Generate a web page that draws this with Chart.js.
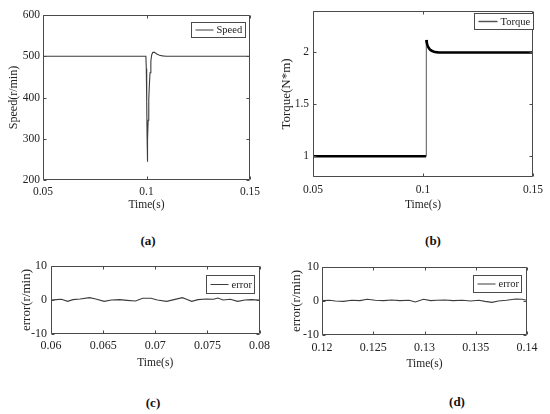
<!DOCTYPE html>
<html><head><meta charset="utf-8">
<script src="https://cdn.jsdelivr.net/npm/chart.js@4.4.1/dist/chart.umd.min.js"></script>
<style>
html,body{margin:0;padding:0;background:#fff;width:550px;height:414px;overflow:hidden;position:relative;}
canvas{position:absolute;}
.cap{position:absolute;font:bold 13px 'Liberation Serif';color:#111;transform:translate(-50%,-50%);white-space:nowrap;}
</style></head><body>
<canvas id="ca" width="275" height="225" style="left:0;top:0"></canvas>
<canvas id="cb" width="275" height="225" style="left:275px;top:0"></canvas>
<canvas id="cc" width="275" height="125" style="left:0;top:250px"></canvas>
<canvas id="cd" width="275" height="125" style="left:275px;top:250px"></canvas>
<div class="cap" style="left:148px;top:241px">(a)</div>
<div class="cap" style="left:433px;top:241px">(b)</div>
<div class="cap" style="left:153px;top:403px">(c)</div>
<div class="cap" style="left:457px;top:402px">(d)</div>
<script>
// ---- data ----
const speedTime   = [0.05, 0.0997, 0.0999, 0.1001, 0.1003, 0.1004, 0.1006, 0.1008, 0.1011, 0.1014, 0.1017, 0.1021, 0.1025, 0.1030, 0.1036, 0.1043, 0.1052, 0.1063, 0.1078, 0.1095, 0.15];
const speedValues = [500, 500, 470, 390, 300, 244, 300, 345, 395, 432, 460, 488, 503, 509, 510, 508, 505, 502.5, 501, 500, 500];
const speedXTicks = [0.05, 0.1, 0.15];
const speedYTicks = [200, 300, 400, 500, 600];

const torqueTime   = [0.05, 0.1014, 0.1015, 0.1017, 0.1020, 0.1024, 0.1029, 0.1035, 0.1042, 0.1050, 0.1060, 0.1072, 0.15];
const torqueValues = [1, 1, 2.12, 2.095, 2.07, 2.05, 2.035, 2.022, 2.013, 2.007, 2.003, 2.0, 2.0];
const torqueXTicks = [0.05, 0.1, 0.15];
const torqueYTicks = [1, 1.5, 2];

const errorCTime   = [0.0600, 0.0605, 0.0610, 0.0616, 0.0621, 0.0628, 0.0637, 0.0643, 0.0651, 0.0658, 0.0666, 0.0673, 0.0681, 0.0688, 0.0696, 0.0702, 0.0711, 0.0718, 0.0726, 0.0730, 0.0735, 0.0741, 0.0749, 0.0756, 0.0760, 0.0765, 0.0772, 0.0779, 0.0786, 0.0792, 0.0800];
const errorCValues = [0.0, 0.1, 0.2, -0.4, 0.1, 0.3, 0.7, 0.3, -0.4, 0.0, 0.1, -0.1, -0.3, 0.5, 0.5, 0.0, -0.4, 0.1, 0.7, 0.2, -0.4, 0.1, 0.3, 0.2, 0.6, 0.0, 0.2, -0.4, 0.0, 0.1, 0.0];
const errorCXTicks = [0.06, 0.065, 0.07, 0.075, 0.08];

const errorDTime   = [0.1200, 0.1207, 0.1213, 0.1221, 0.1229, 0.1237, 0.1244, 0.1252, 0.1260, 0.1268, 0.1276, 0.1285, 0.1291, 0.1299, 0.1306, 0.1312, 0.1320, 0.1328, 0.1337, 0.1345, 0.1353, 0.1359, 0.1366, 0.1372, 0.1380, 0.1389, 0.1395, 0.1400];
const errorDValues = [0.1, 0.2, 0.0, -0.1, 0.2, 0.1, 0.5, 0.2, 0.1, 0.3, 0.1, 0.2, -0.3, 0.5, 0.1, 0.2, 0.3, 0.1, 0.2, 0.0, 0.2, -0.1, -0.4, 0.0, 0.2, 0.6, 0.5, 0.2];
const errorDXTicks = [0.12, 0.125, 0.13, 0.135, 0.14];
const errorYTicks  = [-10, 0, 10];

// ---- helpers ----
const FONT = 'Liberation Serif';
const TXT = '#222';
const AXC = '#4a4a4a';

const boxPlugin = {
  id: 'matlabBox',
  afterDatasetsDraw(chart, args, opts) {
    const {ctx, chartArea: a, scales} = chart;
    ctx.save();
    ctx.strokeStyle = AXC; ctx.lineWidth = 1;
    const L = Math.round(a.left) + 0.5, R = Math.round(a.right) - 0.5;
    const T = Math.round(a.top) + 0.5, B = Math.round(a.bottom) - 0.5;
    ctx.beginPath();
    ctx.rect(L, T, R - L, B - T);
    const tl = 3;
    scales.x.ticks.forEach(t => {
      const px = Math.round(scales.x.getPixelForValue(t.value)) + 0.5;
      ctx.moveTo(px, B); ctx.lineTo(px, B - tl);
      ctx.moveTo(px, T); ctx.lineTo(px, T + tl);
    });
    scales.y.ticks.forEach(t => {
      const py = Math.round(scales.y.getPixelForValue(t.value)) + 0.5;
      ctx.moveTo(L, py); ctx.lineTo(L + tl, py);
      ctx.moveTo(R, py); ctx.lineTo(R - tl, py);
    });
    ctx.stroke();
    // legend
    const ds = chart.data.datasets[0];
    const lg = opts.legend;
    ctx.font = lg.size + 'px "' + FONT + '"';
    const tw = ctx.measureText(ds.label).width;
    const w = lg.padL + lg.sample + lg.gap + tw + lg.padR;
    const x1 = Math.round(a.right - lg.right - w) + 0.5;
    const y1 = Math.round(a.top + lg.top) + 0.5;
    ctx.fillStyle = '#fff';
    ctx.fillRect(x1, y1, Math.round(w), lg.h);
    ctx.strokeStyle = AXC;
    ctx.strokeRect(x1, y1, Math.round(w), lg.h);
    const cy = y1 + lg.h / 2;
    ctx.beginPath();
    ctx.strokeStyle = lg.lineColor; ctx.lineWidth = lg.lineWidth;
    ctx.moveTo(x1 + lg.padL, cy); ctx.lineTo(x1 + lg.padL + lg.sample, cy);
    ctx.stroke();
    ctx.fillStyle = TXT; ctx.textBaseline = 'middle'; ctx.textAlign = 'left';
    ctx.fillText(ds.label, x1 + lg.padL + lg.sample + lg.gap, cy + 0.5);
    ctx.restore();
  }
};

function makeChart(id, c) {
  const data = c.xs.map((x, i) => ({x: x, y: c.ys[i]}));
  return new Chart(document.getElementById(id), {
    type: 'line',
    data: {datasets: [{
      label: c.label, data: data, borderColor: c.color, borderWidth: c.width,
      pointRadius: 0, tension: 0, fill: false, segment: c.segment || {}
    }]},
    plugins: [boxPlugin],
    options: {
      responsive: false, animation: false, devicePixelRatio: 1,
      layout: {padding: c.pad},
      plugins: {legend: {display: false}, tooltip: {enabled: false},
        matlabBox: {legend: c.legend}},
      scales: {
        x: {
          type: 'linear', min: c.xMin, max: c.xMax,
          afterBuildTicks: s => { s.ticks = c.xTicks.map(v => ({value: v})); },
          afterFit: s => { s.height = c.xH; },
          grid: {display: false, drawTicks: false}, border: {display: false},
          ticks: {padding: c.xTickPad, color: TXT, font: {family: FONT, size: c.tickSize}, maxRotation: 0, autoSkip: false, callback: v => String(v)},
          title: {display: true, text: 'Time(s)', color: TXT, font: {family: FONT, size: 11.5}, padding: {top: 0, bottom: c.xTitlePad}}
        },
        y: {
          type: 'linear', min: c.yMin, max: c.yMax,
          afterBuildTicks: s => { s.ticks = c.yTicks.map(v => ({value: v})); },
          afterFit: s => { s.width = c.yW; },
          grid: {display: false, drawTicks: false}, border: {display: false},
          ticks: {padding: c.yTickPad, color: TXT, font: {family: FONT, size: c.tickSize}, autoSkip: false, callback: v => String(v)},
          title: {display: true, text: c.yTitle, color: TXT, font: {family: FONT, size: c.yTitleSize}, padding: {top: c.yTitlePad, bottom: 0}}
        }
      }
    }
  });
}

makeChart('ca', {
  xs: speedTime, ys: speedValues, label: 'Speed', color: '#3c3c3c', width: 1.1,
  xMin: 0.05, xMax: 0.15, yMin: 200, yMax: 600, xTicks: speedXTicks, yTicks: speedYTicks,
  pad: {left: 0, top: 15, right: 25, bottom: 0}, yW: 43, xH: 45,
  xTickPad: 5, yTickPad: 3, xTitlePad: 13, yTitlePad: 7, tickSize: 11.5,
  yTitle: 'Speed(r/min)', yTitleSize: 12,
  legend: {right: 5, top: 7, h: 15, padL: 4, sample: 18, gap: 3, padR: 3, size: 10.5, lineColor: '#3c3c3c', lineWidth: 1}
});

makeChart('cb', {
  xs: torqueTime, ys: torqueValues, label: 'Torque', color: '#000', width: 2.6,
  segment: {borderWidth: ctx => Math.abs(ctx.p1.parsed.y - ctx.p0.parsed.y) > 0.5 ? 1 : 2.6,
            borderColor: ctx => Math.abs(ctx.p1.parsed.y - ctx.p0.parsed.y) > 0.5 ? '#555' : '#000'},
  xMin: 0.05, xMax: 0.15, yMin: 0.8, yMax: 2.4, xTicks: torqueXTicks, yTicks: torqueYTicks,
  pad: {left: 0, top: 10, right: 17, bottom: 0}, yW: 38, xH: 48,
  xTickPad: 6, yTickPad: 4, xTitlePad: 13, yTitlePad: 4, tickSize: 11.5,
  yTitle: 'Torque(N*m)', yTitleSize: 13,
  legend: {right: 0, top: 2, h: 16, padL: 4, sample: 19, gap: 3, padR: 3, size: 10.5, lineColor: '#555', lineWidth: 1.5}
});

makeChart('cc', {
  xs: errorCTime, ys: errorCValues, label: 'error', color: '#3c3c3c', width: 1.1,
  xMin: 0.06, xMax: 0.08, yMin: -10, yMax: 10, xTicks: errorCXTicks, yTicks: errorYTicks,
  pad: {left: 0, top: 16, right: 13, bottom: 0}, yW: 51, xH: 41,
  xTickPad: 5, yTickPad: 4, xTitlePad: 5, yTitlePad: 19, tickSize: 12,
  yTitle: 'error(r/min)', yTitleSize: 13,
  legend: {right: 5, top: 9, h: 18, padL: 4, sample: 18, gap: 3, padR: 3, size: 10.5, lineColor: '#3c3c3c', lineWidth: 1}
});

makeChart('cd', {
  xs: errorDTime, ys: errorDValues, label: 'error', color: '#3c3c3c', width: 1.1,
  xMin: 0.12, xMax: 0.14, yMin: -10, yMax: 10, xTicks: errorDXTicks, yTicks: errorYTicks,
  pad: {left: 0, top: 17, right: 23, bottom: 0}, yW: 47, xH: 40,
  xTickPad: 6, yTickPad: 3, xTitlePad: 4, yTitlePad: 14, tickSize: 12,
  yTitle: 'error(r/min)', yTitleSize: 13,
  legend: {right: 6, top: 8, h: 17, padL: 4, sample: 18, gap: 3, padR: 3, size: 10.5, lineColor: '#3c3c3c', lineWidth: 1}
});
</script>
</body></html>
